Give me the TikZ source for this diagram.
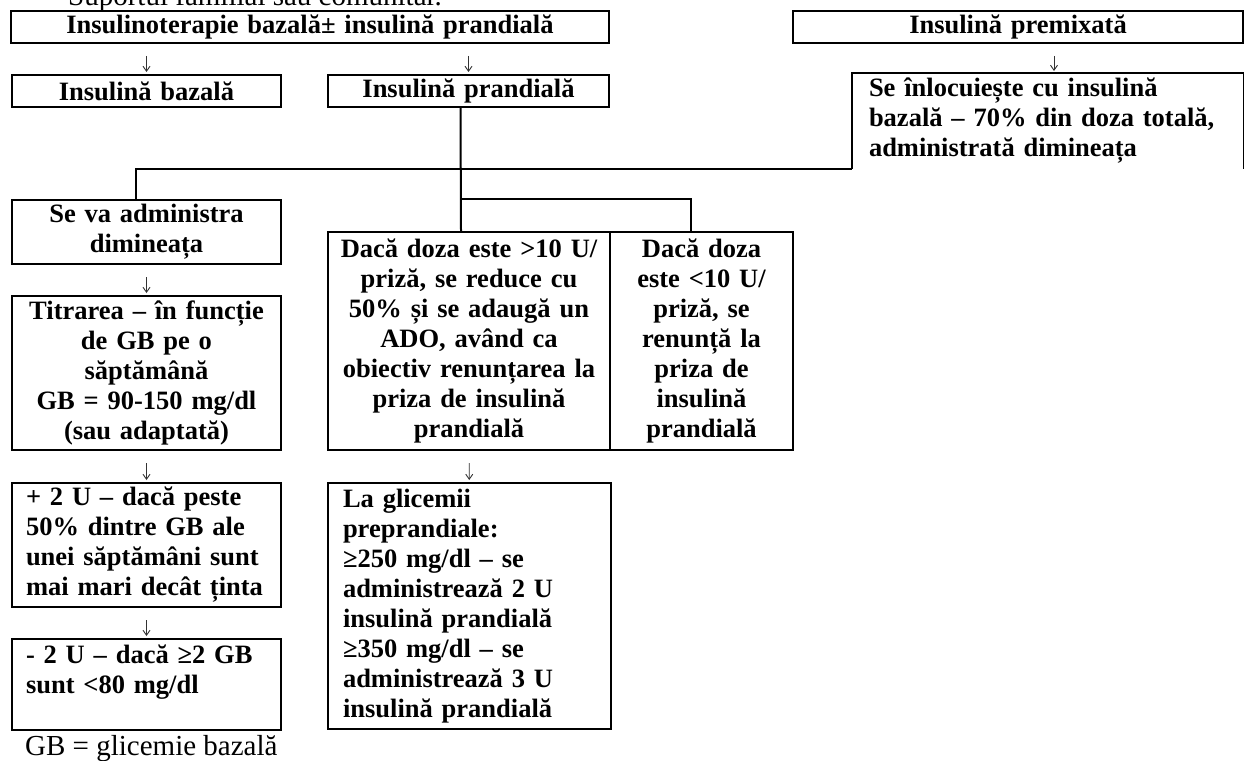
\documentclass[tikz,border=0pt]{standalone}
\usepackage{fontspec}
\setmainfont{Liberation Serif}
\usetikzlibrary{arrows.meta}
\begin{document}
\begin{tikzpicture}[x=1pt,y=-1pt,
    caja/.style={draw,line width=2pt,inner sep=0pt,anchor=north west,align=center,
      font=\fontsize{26.5}{30}\selectfont\bfseries},
    cajaizq/.style={caja,align=left},
    linea/.style={line width=2pt},
    flecha/.style={-{Straight Barb[length=5pt,width=7pt]},line width=0.9pt,black!80,
      shorten <=12pt,shorten >=2pt},
    nota/.style={font=\fontsize{29}{34}\selectfont,inner sep=0pt,anchor=base west}]
    \useasboundingbox (0,0) rectangle (1244,760);
    % texto cortado arriba
    \begin{scope}
        \clip (0,0) rectangle (1244,760);
        \node[nota] (sup) at (68,6) {Suportul familial sau comunitar.};
    \end{scope}
    % fila 1
    \node[caja,minimum width=598pt,minimum height=32pt,text width=590pt] (T) at (10,10) {Insulinoterapie bazală± insulină prandială};
    \node[caja,minimum width=450pt,minimum height=32pt,text width=440pt] (P) at (792,10) {Insulină premixată};
    % fila 2
    \node[caja,minimum width=269pt,minimum height=32pt,text width=260pt] (B) at (11,74) {Insulină bazală};
    \node[caja,minimum width=281pt,minimum height=32pt,text width=272pt] (R) at (327,74) {Insulină prandială};
    \node[cajaizq,draw=none,minimum width=390pt,minimum height=94pt,text width=358pt] (S) at (852,73)
        {Se înlocuiește cu insulină\\ bazală – 70\% din doza totală,\\ administrată dimineața};
    \draw[linea] (S.south west) -- (S.north west) -- (S.north east) -- (S.south east); % sin borde abajo
    % columna izquierda
    \node[caja,minimum width=269pt,minimum height=64pt,text width=260pt] (V) at (11,199) {Se va administra\\ dimineața};
    \node[caja,minimum width=269pt,minimum height=154pt,text width=260pt] (Tt) at (11,295)
        {Titrarea – în funcție\\ de GB pe o\\ săptămână\\ GB = 90-150 mg/dl\\ (sau adaptată)};
    \node[cajaizq,minimum width=269pt,minimum height=124pt,text width=241pt] (Mas) at (11,482)
        {+ 2 U – dacă peste\\ 50\% dintre GB ale\\ unei săptămâni sunt\\ mai mari decât ținta};
    \node[cajaizq,minimum width=269pt,minimum height=91pt,text width=241pt] (Men) at (11,638)
        {- 2 U – dacă ≥2 GB\\ sunt <80 mg/dl\\ \mbox{}};
    \node[nota] (gb) at (25,755) {GB = glicemie bazală};
    % columna central
    \node[caja,minimum width=282pt,minimum height=218pt,text width=274pt] (D1) at (327,231)
        {Dacă doza este >10 U/\\ priză, se reduce cu\\ 50\% și se adaugă un\\ ADO, având ca\\ obiectiv renunțarea la\\ priza de insulină\\ prandială};
    \node[caja,minimum width=183pt,minimum height=218pt,text width=175pt] (D2) at (609,231)
        {Dacă doza\\ este <10 U/\\ priză, se\\ renunță la\\ priza de\\ insulină\\ prandială};
    \node[cajaizq,minimum width=283pt,minimum height=246pt,text width=253pt] (L) at (327,482)
        {La glicemii\\ preprandiale:\\ ≥250 mg/dl – se\\ administrează 2 U\\ insulină prandială\\ ≥350 mg/dl – se\\ administrează 3 U\\ insulină prandială};
    % lineas
    \coordinate (horq) at ([xshift=-8pt,yshift=32pt]D1.north);
    \draw[linea] ([xshift=-8pt]R.south) -- ([xshift=-8pt]D1.north);
    \draw[linea] ([xshift=-11pt]V.north) |- (S.south west);
    \draw[linea] (horq) -| ([xshift=-11pt]D2.north);
    % flechas
    \draw[flecha] (T.south -| B.north) -- (B.north);
    \draw[flecha] (T.south -| R.north) -- (R.north);
    \draw[flecha] ([xshift=6pt]P.south -| S.north) -- ([xshift=6pt]S.north);
    \draw[flecha] (V) -- (Tt);
    \draw[flecha] (Tt) -- (Mas);
    \draw[flecha] (Mas) -- (Men);
    \draw[flecha] (D1) -- (L);
\end{tikzpicture}
\end{document}
